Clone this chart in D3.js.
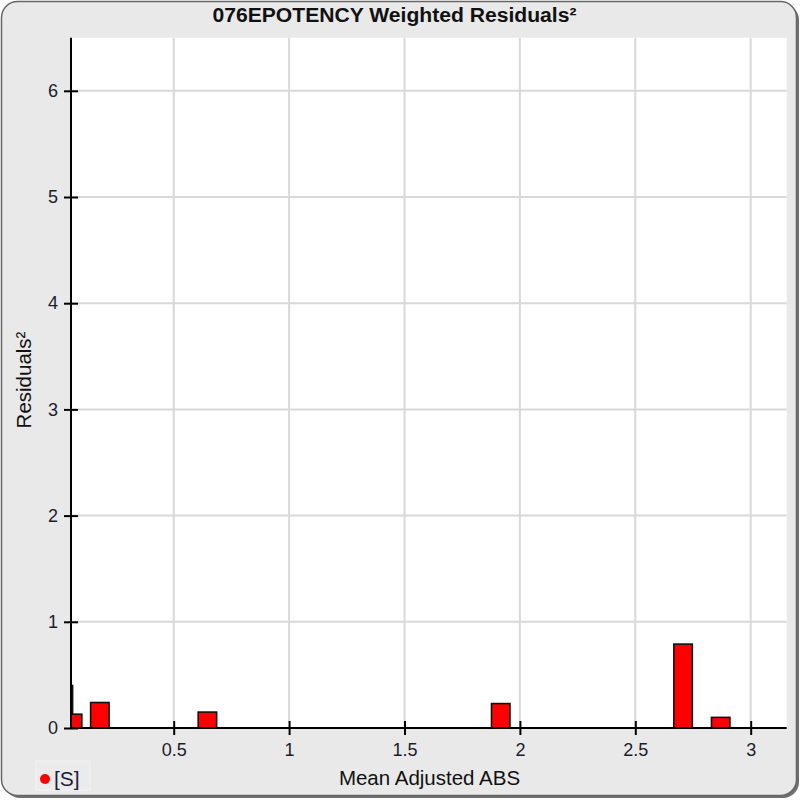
<!DOCTYPE html>
<html>
<head>
<meta charset="utf-8">
<script src="https://cdn.jsdelivr.net/npm/d3@7"></script>
<style>
  html, body { margin: 0; padding: 0; background: #ffffff; }
  svg { display: block; font-family: "Liberation Sans", Arial, sans-serif; }
</style>
</head>
<body>
<svg id="chart" width="801" height="800"></svg>
<script>
// ---- data ----
const titleText = "076EPOTENCY Weighted Residuals\u00B2";
const xLabel = "Mean Adjusted ABS";
const yLabel = "Residuals\u00B2";
const legendLabel = "[S]";
const barX = [0.022, 0.062, 0.18, 0.646, 1.917, 2.707, 2.87];
const barValues = [0.40, 0.13, 0.24, 0.15, 0.23, 0.79, 0.10];
const barWidth = 0.08;
const xTicks = [0.5, 1, 1.5, 2, 2.5, 3];
const xTickLabels = ["0.5", "1", "1.5", "2", "2.5", "3"];
const yTicks = [0, 1, 2, 3, 4, 5, 6];
const yTickLabels = ["0", "1", "2", "3", "4", "5", "6"];
const xDomain = [0.055, 3.156];
const yDomain = [0, 6.5];

// ---- layout ----
const svg = d3.select("#chart");
const plot = { left: 71, right: 786.7, top: 37.7, bottom: 728 };

// panel background with rounded border and shadow
svg.append("rect").attr("x", 4).attr("y", 4).attr("width", 795).attr("height", 794)
  .attr("rx", 16).attr("fill", "#707070");
svg.append("rect").attr("x", 1.5).attr("y", 1.5).attr("width", 795).attr("height", 794)
  .attr("rx", 16).attr("fill", "#e9e9e9").attr("stroke", "#666666").attr("stroke-width", 1.5);

const x = d3.scaleLinear().domain(xDomain).range([plot.left, plot.right]);
const y = d3.scaleLinear().domain(yDomain).range([plot.bottom, plot.top]);

// plot area
svg.append("rect").attr("x", plot.left).attr("y", plot.top)
  .attr("width", plot.right - plot.left).attr("height", plot.bottom - plot.top)
  .attr("fill", "#ffffff");

svg.append("clipPath").attr("id", "plotclip").append("rect")
  .attr("x", plot.left).attr("y", plot.top)
  .attr("width", plot.right - plot.left).attr("height", plot.bottom - plot.top);

// grid
const grid = svg.append("g").attr("stroke", "#d8d8d8").attr("stroke-width", 2);
grid.selectAll("line.gx").data(xTicks).join("line").attr("class", "gx")
  .attr("x1", d => x(d)).attr("x2", d => x(d)).attr("y1", plot.top).attr("y2", plot.bottom);
grid.selectAll("line.gy").data(yTicks.filter(d => d > 0)).join("line").attr("class", "gy")
  .attr("x1", plot.left).attr("x2", plot.right).attr("y1", d => y(d)).attr("y2", d => y(d));

// bars
const barsG = svg.append("g").attr("clip-path", "url(#plotclip)");
const bars = barX.map((v, i) => ({ x: v, v: barValues[i] }));
barsG.selectAll("rect").data(bars).join("rect")
  .attr("x", d => x(d.x - barWidth / 2))
  .attr("width", d => x(d.x + barWidth / 2) - x(d.x - barWidth / 2))
  .attr("y", d => y(d.v))
  .attr("height", d => y(0) - y(d.v))
  .attr("fill", "#ff0000")
  .attr("stroke", "#111111")
  .attr("stroke-width", 1.6);

// axes
const xAxis = d3.axisBottom(x).tickValues(xTicks)
  .tickFormat((d, i) => xTickLabels[i]).tickSizeOuter(0).tickSizeInner(7).tickPadding(8);
const gx = svg.append("g").attr("transform", `translate(0,${plot.bottom})`).call(xAxis);
gx.select(".domain").attr("stroke", "#000").attr("stroke-width", 2)
  .attr("d", `M${plot.left},0H${plot.right}`);
gx.selectAll(".tick line").attr("stroke", "#000").attr("stroke-width", 2).attr("y1", -7).attr("y2", 7);
gx.selectAll(".tick text").attr("fill", "#1c1c2c").attr("font-size", 18)
  .attr("font-family", "'Liberation Sans', Arial, sans-serif");

const yAxis = d3.axisLeft(y).tickValues(yTicks)
  .tickFormat((d, i) => yTickLabels[i]).tickSizeOuter(0).tickSizeInner(7).tickPadding(6);
const gy = svg.append("g").attr("transform", `translate(${plot.left},0)`).call(yAxis);
gy.select(".domain").attr("stroke", "#000").attr("stroke-width", 2)
  .attr("d", `M0,${plot.top}V${plot.bottom}`);
gy.selectAll(".tick line").attr("stroke", "#000").attr("stroke-width", 2).attr("x1", -7).attr("x2", 7);
gy.selectAll(".tick text").attr("fill", "#1c1c2c").attr("font-size", 18)
  .attr("font-family", "'Liberation Sans', Arial, sans-serif");

// title
svg.append("text").attr("x", 394.5).attr("y", 22).attr("text-anchor", "middle")
  .attr("font-size", 20).attr("font-weight", "bold").attr("fill", "#111")
  .attr("textLength", 364).attr("lengthAdjust", "spacingAndGlyphs")
  .text(titleText);

// axis titles
svg.append("text").attr("x", 429.5).attr("y", 785).attr("text-anchor", "middle")
  .attr("font-size", 20.5).attr("fill", "#111").text(xLabel);
svg.append("text").attr("transform", "translate(31,380) rotate(-90)").attr("text-anchor", "middle")
  .attr("font-size", 20.5).attr("fill", "#111").text(yLabel);

// legend
const lg = svg.append("g");
lg.append("rect").attr("x", 36).attr("y", 761).attr("width", 54).attr("height", 29)
  .attr("fill", "#ebebeb").attr("stroke", "#f3f3f3").attr("stroke-width", 1);
lg.append("circle").attr("cx", 45).attr("cy", 779).attr("r", 5).attr("fill", "#ff0000");
lg.append("text").attr("x", 54).attr("y", 786).attr("font-size", 21).attr("fill", "#1c1c3c").text(legendLabel);
</script>
</body>
</html>
